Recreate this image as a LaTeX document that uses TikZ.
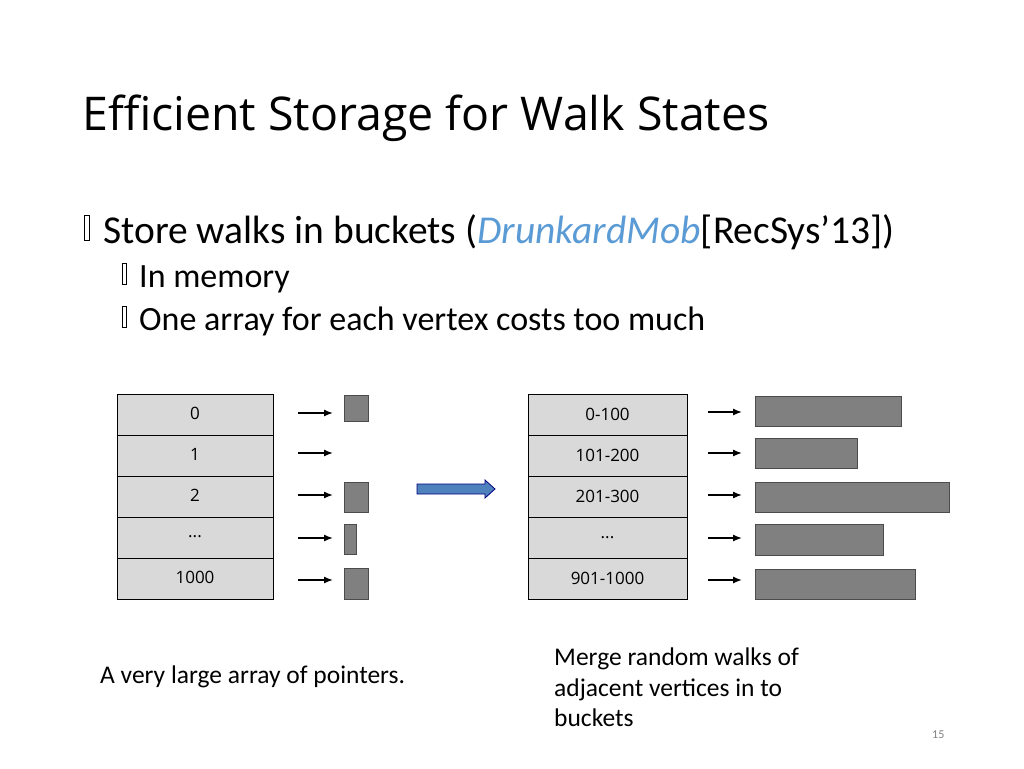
\documentclass[tikz,border=0pt]{standalone}
\usepackage{fontspec}
\setmainfont{Carlito}
\newfontfamily\osans{Open Sans}
\usetikzlibrary{arrows.meta}
\begin{document}
\begin{tikzpicture}[x=1pt,y=-1pt,
  cell/.style={draw=black,fill=gray!30,line width=0.8pt,minimum width=156pt,minimum height=41pt,inner sep=0pt,font=\osans\fontsize{17}{20}\selectfont},
  rcell/.style={cell,minimum width=159pt},
  blk/.style={draw=black!70,fill=black!50,line width=0.6pt},
  ptr/.style={-{Latex[length=9pt,width=7pt]},line width=1.4pt},
  txt/.style={anchor=base west,inner sep=0pt},
  bul/.style={draw=black,line width=0.6pt}]
\useasboundingbox (0,0) rectangle (1024,768);
\node[txt,font=\osans\fontsize{46.5}{54}\selectfont] (title) at (82,130) {Efficient Storage for Walk States};
\draw[bul] (84,215) rectangle (89,240);
\node[txt,font=\fontsize{39.5}{46}\selectfont] (b1) at (103,243) {Store walks in buckets (\textcolor[HTML]{5B9BD5}{\itshape DrunkardMob}[RecSys’13])};
\draw[bul] (122,263) rectangle (126,284);
\node[txt,font=\fontsize{34}{40}\selectfont] (b2) at (139,287) {In memory};
\draw[bul] (122,306) rectangle (126,327);
\node[txt,font=\fontsize{34}{40}\selectfont] (b3) at (139,330) {One array for each vertex costs too much};
% left table
\foreach \t/\y [count=\i] in {0/414.5,1/455.5,2/496.5,{...}/537.5,1000/578.5}{
  \node[cell] (l\i) at (195,\y) {\raisebox{2pt}{\t}};
}
\foreach \y [count=\i] in {413,453,495,538,580}{
  \coordinate (la\i) at (298,\y);
  \coordinate (lb\i) at (333,\y);
  \draw[ptr] (la\i) -- (lb\i);
}
\draw[blk] (344,395) rectangle (368,421);
\draw[blk] (344,482) rectangle (368,512);
\draw[blk] (344,524) rectangle (356,554);
\draw[blk] (344,568) rectangle (368,599);
% big arrow
\draw[draw=blue!50!black,fill={rgb,255:red,79;green,129;blue,189},line width=0.8pt]
  (417,484) -- (485,484) -- (485,480) -- (495,489) -- (485,498) -- (485,494) -- (417,494) -- cycle;
% right table
\foreach \t/\y [count=\i] in {0-100/414.5,101-200/455.5,201-300/496.5,{...}/537.5,901-1000/578.5}{
  \node[rcell] (r\i) at (607.5,\y) {\t};
}
\foreach \y [count=\i] in {412,453,495,538,580}{
  \coordinate (ra\i) at (708,\y);
  \coordinate (rb\i) at (742,\y);
  \draw[ptr] (ra\i) -- (rb\i);
}
\draw[blk] (755,396) rectangle (901,426);
\draw[blk] (755,438) rectangle (857,468);
\draw[blk] (755,482) rectangle (949,512);
\draw[blk] (755,524) rectangle (883,555);
\draw[blk] (755,569) rectangle (915,599);
\node[txt,font=\fontsize{25.5}{30}\selectfont] (c1) at (100,683) {A very large array of pointers.};
\node[txt,font=\fontsize{25.5}{30}\selectfont] (c2) at (554,665) {Merge random walks of};
\node[txt,font=\fontsize{25.5}{30}\selectfont] (c3) at (554,696) {adjacent vertices in to};
\node[txt,font=\fontsize{25.5}{30}\selectfont] (c4) at (554,726) {buckets};
\node[txt,font=\fontsize{12}{14}\selectfont,text=gray] (pg) at (932,738) {15};
\end{tikzpicture}
\end{document}
